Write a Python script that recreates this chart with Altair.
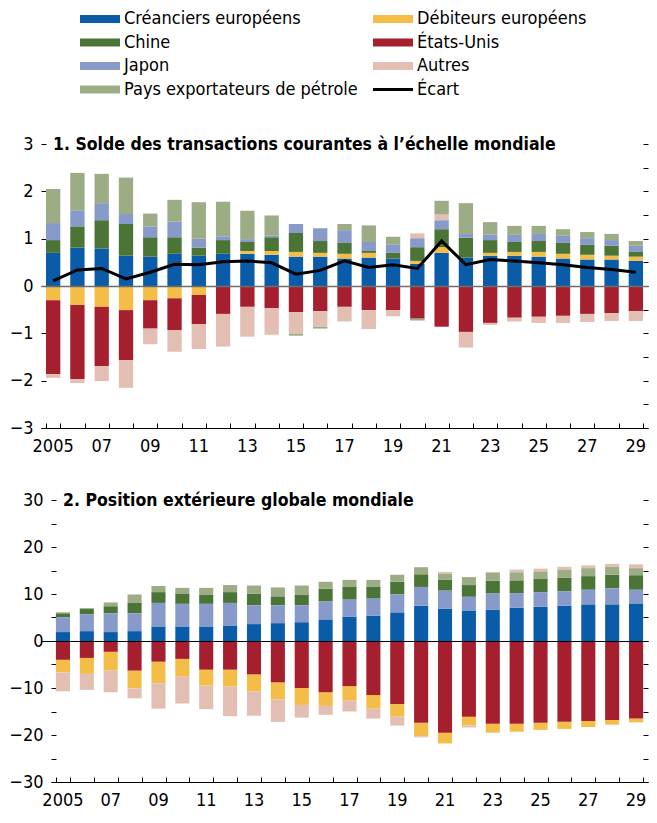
import json
import altair as alt
import pandas as pd

FONT = "Liberation Sans Narrow, Arial Narrow, DejaVu Sans Condensed, Roboto Condensed, Arial, sans-serif"

years = list(range(2005, 2030))
x_tick_labels = ["2005", "", "07", "", "09", "", "11", "", "13", "", "15", "", "17", "",
                 "19", "", "21", "", "23", "", "25", "", "27", "", "29"]

series = ["Créanciers européens", "Débiteurs européens", "Chine", "États-Unis",
          "Japon", "Autres", "Pays exportateurs de pétrole"]
colors = ["#0A5CA8", "#F3BD47", "#4A7536", "#A61F2F", "#879ACA", "#E3BEB3", "#9CAC84"]

# ---- Panel 1 : solde des transactions courantes
p1_creanciers = [0.70, 0.81, 0.79, 0.64, 0.62, 0.68, 0.64, 0.68, 0.68, 0.66, 0.62, 0.62, 0.58,
                 0.60, 0.58, 0.47, 0.70, 0.60, 0.64, 0.64, 0.62, 0.58, 0.56, 0.56, 0.53]
p1_debiteurs = [-0.30, -0.40, -0.44, -0.51, -0.30, -0.26, -0.19, -0.02, 0.06, 0.08, 0.10, 0.08, 0.10,
                0.10, 0.00, 0.06, 0.12, 0.00, 0.06, 0.08, 0.10, 0.10, 0.10, 0.08, 0.09]
p1_chine = [0.27, 0.45, 0.60, 0.67, 0.41, 0.35, 0.17, 0.29, 0.19, 0.29, 0.40, 0.25, 0.23,
            0.04, 0.12, 0.29, 0.38, 0.42, 0.27, 0.21, 0.23, 0.23, 0.21, 0.21, 0.10]
p1_etats_unis = [-1.56, -1.57, -1.25, -1.06, -0.60, -0.67, -0.62, -0.57, -0.44, -0.47, -0.55, -0.53, -0.44,
                 -0.51, -0.51, -0.69, -0.86, -0.97, -0.78, -0.67, -0.65, -0.63, -0.59, -0.57, -0.53]
p1_japon = [0.36, 0.34, 0.36, 0.21, 0.23, 0.33, 0.19, 0.08, 0.06, 0.04, 0.19, 0.27, 0.27,
            0.19, 0.17, 0.19, 0.19, 0.08, 0.12, 0.15, 0.15, 0.15, 0.14, 0.12, 0.13]
p1_autres = [-0.08, -0.08, -0.32, -0.58, -0.33, -0.46, -0.52, -0.69, -0.63, -0.56, -0.46, -0.33, -0.31,
             -0.40, -0.13, 0.10, 0.12, -0.33, -0.04, -0.08, -0.13, -0.15, -0.17, -0.17, -0.21]
p1_petrole = [0.72, 0.79, 0.62, 0.77, 0.27, 0.46, 0.77, 0.73, 0.60, 0.42, -0.04, -0.04, 0.13,
              0.35, 0.17, -0.04, 0.29, 0.65, 0.26, 0.19, 0.17, 0.14, 0.13, 0.13, 0.10]
p1_ecart = [0.11, 0.34, 0.37, 0.15, 0.29, 0.46, 0.45, 0.51, 0.53, 0.49, 0.25, 0.33, 0.53,
            0.39, 0.45, 0.37, 0.95, 0.45, 0.56, 0.53, 0.49, 0.45, 0.39, 0.35, 0.29]
p1_yticks = [-3, -2.5, -2, -1.5, -1, -0.5, 0, 0.5, 1, 1.5, 2, 2.5, 3]

# ---- Panel 2 : position extérieure globale
p2_creanciers = [1.9, 2.1, 1.9, 2.1, 3.1, 3.1, 3.1, 3.3, 3.6, 3.8, 4.0, 4.6, 5.2,
                 5.4, 6.1, 7.5, 6.9, 6.5, 6.7, 7.1, 7.3, 7.5, 7.8, 7.8, 8.0]
p2_japon = [3.1, 3.6, 4.0, 3.8, 5.0, 4.8, 4.8, 4.8, 4.0, 3.8, 3.6, 3.8, 3.6,
            3.6, 3.8, 4.0, 3.8, 2.9, 3.4, 3.1, 3.1, 3.1, 3.1, 3.4, 2.9]
p2_chine = [0.9, 1.1, 1.5, 2.3, 2.3, 2.1, 1.9, 2.3, 2.5, 1.9, 2.3, 2.7, 2.7,
            2.5, 2.7, 2.7, 2.3, 2.5, 2.7, 2.7, 2.9, 2.9, 2.9, 2.9, 3.1]
p2_petrole = [0.2, 0.2, 0.8, 1.7, 1.3, 1.3, 1.5, 1.5, 1.7, 1.9, 1.9, 1.5, 1.5,
              1.5, 1.5, 1.5, 1.3, 1.7, 1.7, 1.7, 1.5, 1.7, 1.7, 1.7, 1.5]
p2_autres = [-4.0, -3.4, -4.6, -2.1, -5.4, -5.7, -5.0, -6.3, -5.2, -4.8, -2.7, -1.9, -2.3,
             -2.1, -1.9, -0.2, 0.4, -0.4, 0.2, 0.6, 0.6, 0.6, 0.6, 0.6, 0.8]
p2_etats_unis = [-4.0, -3.6, -2.3, -6.3, -4.4, -3.8, -6.1, -6.1, -7.1, -8.8, -10.0, -10.9, -9.6,
                 -11.5, -13.4, -17.4, -19.5, -16.1, -17.6, -17.6, -17.4, -17.2, -17.0, -16.8, -16.5]
p2_debiteurs = [-2.7, -3.4, -4.0, -3.8, -4.6, -3.8, -3.4, -3.6, -3.6, -3.6, -3.6, -2.9, -3.1,
                -2.9, -2.7, -2.9, -2.3, -1.9, -1.9, -1.7, -1.5, -1.5, -1.3, -1.0, -0.8]
p2_yticks = [-30, -25, -20, -15, -10, -5, 0, 5, 10, 15, 20, 25, 30]

# ---- Légende
legend_names = ["Créanciers européens", "Débiteurs européens", "Chine", "États-Unis",
                "Japon", "Autres", "Pays exportateurs de pétrole", "Écart"]
legend_colors = ["#0A5CA8", "#F3BD47", "#4A7536", "#A61F2F", "#879ACA", "#E3BEB3", "#9CAC84", "#000000"]
legend_kinds = ["bar"] * 7 + ["line"]

label_expr = json.dumps(x_tick_labels) + "[datum.value - 2005]"
LABEL_SIZE = 18


def long_df(values_by_series, order):
    rows = []
    for name, vals in values_by_series.items():
        for yr, v in zip(years, vals):
            rows.append({"year": yr, "serie": name, "value": v, "ord": order[name]})
    return pd.DataFrame(rows)


p1_df = long_df({
    "Créanciers européens": p1_creanciers, "Débiteurs européens": p1_debiteurs,
    "Chine": p1_chine, "États-Unis": p1_etats_unis, "Japon": p1_japon,
    "Autres": p1_autres, "Pays exportateurs de pétrole": p1_petrole,
}, {"Créanciers européens": 0, "Débiteurs européens": 1, "Chine": 2, "Japon": 3,
    "États-Unis": 4, "Autres": 5, "Pays exportateurs de pétrole": 6})
p1_line = pd.DataFrame({"year": years, "ecart": p1_ecart})

p2_df = long_df({
    "Créanciers européens": p2_creanciers, "Débiteurs européens": p2_debiteurs,
    "Chine": p2_chine, "États-Unis": p2_etats_unis, "Japon": p2_japon,
    "Autres": p2_autres, "Pays exportateurs de pétrole": p2_petrole,
}, {"Créanciers européens": 0, "Japon": 1, "Chine": 2, "États-Unis": 3,
    "Débiteurs européens": 4, "Pays exportateurs de pétrole": 5, "Autres": 6})


def panel(df, title_text, yticks, major, zero_color, zero_width, width, height, inset, line_df=None):
    ymin, ymax = yticks[0], yticks[-1]
    xscale = alt.Scale(range=[inset, width], paddingInner=0.41, paddingOuter=0.205)
    yscale = alt.Scale(domain=[ymin, ymax], nice=False, zero=False)
    bars = alt.Chart(df).mark_bar(strokeWidth=0).encode(
        x=alt.X("year:O", scale=xscale, title=None,
                axis=alt.Axis(orient="bottom", labelExpr=label_expr, labelAngle=0, ticks=False,
                              tickSize=0, domain=True, domainColor="black", domainWidth=1,
                              labelPadding=9, labelOverlap=False, grid=False)),
        y=alt.Y("value:Q", stack="zero", scale=yscale, title=None,
                axis=alt.Axis(orient="left", values=yticks, format="d",
                              labelExpr=f"datum.value % {major} == 0 ? datum.label : ''",
                              tickSize=5, offset=-5 - inset, domain=False, grid=False,
                              labelPadding=8)),
        color=alt.Color("serie:N", scale=alt.Scale(domain=series, range=colors), legend=None),
        order=alt.Order("ord:Q", sort="ascending"),
    )
    ghost = alt.Chart(df).mark_bar(opacity=0).encode(
        x=alt.X("year:O", scale=xscale, title=None,
                axis=alt.Axis(orient="bottom", offset=-5, ticks=True, tickSize=5, tickBand="extent",
                              labels=False, domain=False, grid=False)),
        y=alt.Y("value:Q", stack=None, scale=yscale, title=None,
                axis=alt.Axis(orient="right", values=yticks, offset=-5, tickSize=5,
                              labels=False, domain=False, grid=False)),
    )
    zero = alt.Chart(pd.DataFrame({"z": [0]})).mark_rule(opacity=0).encode(
        y=alt.Y("z:Q", scale=yscale, title=None,
                axis=alt.Axis(orient="left", values=[0], grid=True, gridColor=zero_color,
                              gridWidth=zero_width, gridOpacity=1, ticks=False, labels=False,
                              domain=False, zindex=1))
    )
    layers = [bars, ghost, zero]
    if line_df is not None:
        line = alt.Chart(line_df).mark_line(color="black", strokeWidth=3).encode(
            x=alt.X("year:O", scale=xscale, axis=None),
            y=alt.Y("ecart:Q", scale=yscale, axis=None),
        )
        layers.append(line)
    return alt.layer(*layers).resolve_axis(x="independent", y="independent").properties(
        width=width, height=height,
        title=alt.TitleParams(title_text, anchor="start", frame="group", orient="top",
                              offset=-18, dx=12 + inset, font=FONT, fontSize=17.5, fontWeight="bold",
                              color="black"),
    )


# legend chart
leg_df = pd.DataFrame({
    "name": legend_names,
    "color": legend_colors,
    "kind": legend_kinds,
    "col": [i % 2 for i in range(len(legend_names))],
    "row": [i // 2 for i in range(len(legend_names))],
})
bar_path = "M-1,-0.2L1,-0.2L1,0.2L-1,0.2Z"
line_path = "M-1,-0.07L1,-0.07L1,0.07L-1,0.07Z"
lx = alt.X("col:Q", scale=alt.Scale(domain=[0, 1], range=[59, 352]), axis=None)
ly = alt.Y("row:Q", scale=alt.Scale(domain=[0, 3], range=[11, 81.5]), axis=None)
swatches = alt.Chart(leg_df).mark_point(filled=True, opacity=1, size=1600, strokeWidth=0).encode(
    x=lx, y=ly,
    color=alt.Color("name:N", scale=alt.Scale(domain=legend_names, range=legend_colors), legend=None),
    shape=alt.Shape("kind:N", scale=alt.Scale(domain=["bar", "line"], range=[bar_path, line_path]), legend=None),
)
texts = alt.Chart(leg_df).mark_text(align="left", baseline="middle", dx=24, font=FONT,
                                     fontSize=LABEL_SIZE, color="black").encode(x=lx, y=ly, text="name:N")
legend_chart = alt.layer(swatches, texts).properties(width=600, height=90)

p1 = panel(p1_df, "1. Solde des transactions courantes à l’échelle mondiale", p1_yticks, 1,
           "#6E6E6E", 1.3, 607, 284, 0, p1_line)
p2 = panel(p2_df, "2. Position extérieure globale mondiale", p2_yticks, 10,
           "#000000", 1, 607, 282, 10)

chart = alt.concat(legend_chart, p1, p2, columns=1, spacing=36, padding=0).configure_view(
    stroke=None
).configure_axis(
    labelFont=FONT, labelFontSize=LABEL_SIZE, labelColor="black", tickColor="black", tickWidth=1,
    domainColor="black"
)

chart.save("out.html", embed_options={"renderer": "svg", "actions": False})
